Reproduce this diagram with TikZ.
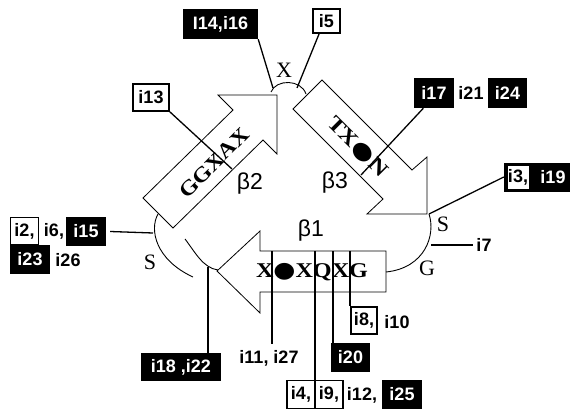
\documentclass[tikz,border=0pt]{standalone}
\usepackage{fontspec}
\setmainfont{Liberation Serif}
\setsansfont{Liberation Sans}
\newfontfamily\symfont{DejaVu Sans}
\newcommand{\bigdot}{{\symfont\fontsize{22}{22}\selectfont ●}}
\begin{document}
\begin{tikzpicture}[x=1pt,y=-1pt,
  lab/.style={font=\sffamily\bfseries\fontsize{18}{18}\selectfont, inner sep=0pt, anchor=center},
  blk/.style={lab, fill=black, text=white},
  wht/.style={lab, draw=black, line width=1.6pt, fill=white},
  arr/.style={draw=black, line width=0.8pt, fill=white, line join=miter},
  lead/.style={line width=1.3pt},
  loopc/.style={line width=0.9pt},
  grk/.style={font=\fontsize{22}{22}\selectfont, inner sep=0pt},
  bet/.style={font=\sffamily\fontsize{23}{23}\selectfont, inner sep=0pt},
  seq/.style={font=\bfseries\fontsize{21}{21}\selectfont, inner sep=0pt}
]
\useasboundingbox (0,0) rectangle (571,412);

% arrows (beta strands)
\draw[arr] (143,198) -- (233,110) -- (218,95) -- (277,95) -- (277,154) -- (263,140) -- (173,228) -- cycle;
\draw[arr] (322,80) -- (412,170) -- (427,157) -- (427,214) -- (367,214) -- (383,199) -- (293,109) -- cycle;
\draw[arr] (386,251) -- (260,251) -- (260,231) -- (217,271) -- (260,313) -- (260,292) -- (386,292) -- cycle;

% loops
\draw[loopc] (271,92) .. controls (276,79) and (301,79) .. (306,94);
\draw[loopc] (429,214) .. controls (436,235) and (425,268) .. (386,272);
\draw[loopc] (158,214) .. controls (149,230) and (156,260) .. (193,277);
\draw[loopc] (185,239) .. controls (195,252) and (203,268) .. (218,270);

% loop / arrow labels
\node[grk] (lx) at (284,70) {X};
\node[grk] (ls1) at (443,224) {S};
\node[grk] (ls2) at (150,262) {S};
\node[grk] (lg) at (427,268) {G};
\node[bet] (b1) at (311,231) {β1};
\node[bet] (b2) at (250,184) {β2};
\node[bet] (b3) at (335,183) {β3};

% label boxes
\node[blk, minimum width=75pt, minimum height=30pt] (i14) at (220.5,24) {I14,i16};
\node[wht, minimum width=27pt, minimum height=24pt] (i5) at (326.5,21) {i5};
\node[wht, minimum width=36pt, minimum height=27pt] (i13) at (151,97.5) {i13};
\node[blk, minimum width=40pt, minimum height=30pt] (i17) at (434,93) {i17};
\node[lab] (i21) at (471,93) {i21};
\node[blk, minimum width=39pt, minimum height=30pt] (i24) at (507.5,93) {i24};

\node[blk, minimum width=66pt, minimum height=29pt] (g3) at (537,177) {};
\node[lab, fill=white, minimum width=21pt, minimum height=23pt] (i3) at (518,177) {i3,};
\node[lab, text=white] (i19) at (553,177) {i19};

\node[lab] (i7) at (484,245) {i7};

\node[wht, minimum width=28pt, minimum height=27pt] (i2) at (24.5,231) {i2,};
\node[lab] (i6) at (54,231) {i6,};
\node[blk, minimum width=40pt, minimum height=29pt] (i15) at (86,231.5) {i15};
\node[blk, minimum width=40pt, minimum height=29pt] (i23) at (30,259.5) {i23};
\node[lab] (i26) at (68,260) {i26};

\node[blk, minimum width=80pt, minimum height=28pt] (i18) at (181,367) {i18 ,i22};
\node[wht, minimum width=26pt, minimum height=27pt] (i8) at (364,320.5) {i8,};
\node[lab] (i10) at (397,322) {i10};
\node[lab, minimum height=28pt] (i11) at (269,358) {i11, i27};
\node[blk, minimum width=39pt, minimum height=29pt] (i20) at (350.5,357.5) {i20};
\node[wht, minimum width=28pt, minimum height=28pt] (i4) at (301,394.5) {i4,};
\node[wht, minimum width=28pt, minimum height=28pt] (i9) at (329,394.5) {i9,};
\node[lab] (i12) at (362,395) {i12,};
\node[blk, minimum width=40pt, minimum height=29pt] (i25) at (402,394.5) {i25};

% leader end points
\coordinate (xl) at (273,88);
\coordinate (xr) at (297,88);
\coordinate (b2e) at (232,169);
\coordinate (b3e) at (361,175);
\coordinate (sr) at (429,214);
\coordinate (g7) at (431,245);
\coordinate (sl) at (153,233);
\coordinate (c18) at (208,267);
\coordinate (q1) at (272,251);
\coordinate (q2) at (315,251);
\coordinate (q3) at (333,251);
\coordinate (q4) at (350,251);

% leaders
\draw[lead] (i14.south east) -- (xl);
\draw[lead] (i5.240) -- (xr);
\draw[lead] (i13.south east) -- (b2e);
\draw[lead] (i17.235) -- (b3e);
\draw[lead] (g3.west) -- (sr);
\draw[lead] (g7) -- ([xshift=-3pt]i7.west);
\draw[lead] ([xshift=4pt]i15.east) -- (sl);
\draw[lead] (c18) -- (c18 |- i18.north);
\draw[lead] (q1) -- (q1 |- i11.north);
\draw[lead] (q2) -- (q2 |- i4.north);
\draw[lead] (q3) -- (q3 |- i20.north);
\draw[lead] (q4) -- (q4 |- i8.north);

% sequence motifs
\node[seq, rotate=45, xscale=1.15] (m2) at (214,163) {GGXAX};
\node[seq, rotate=-45, xscale=1.2] (m3) at (357,147) {TX\bigdot N};
\node[seq, xscale=1.15] (m1) at (312,272) {X\bigdot XQXG};
\end{tikzpicture}
\end{document}
